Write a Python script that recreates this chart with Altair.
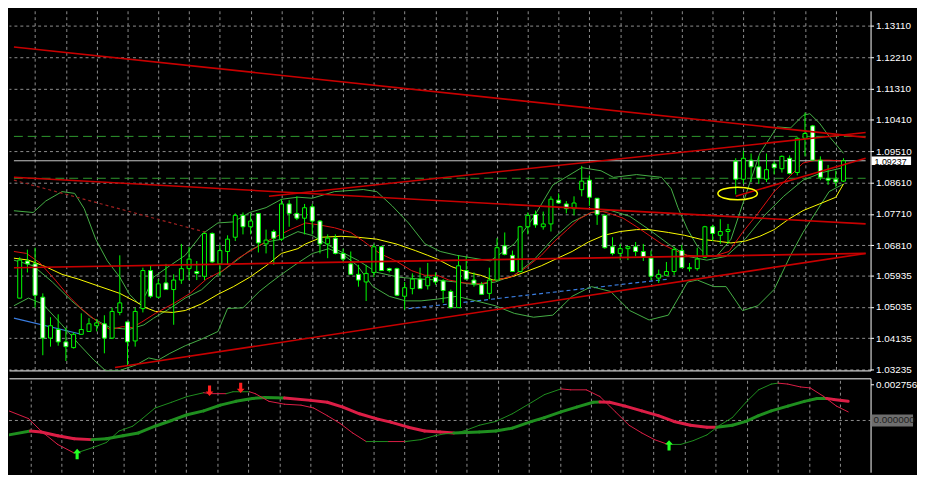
import altair as alt
import pandas as pd

# ---------------- data ----------------
opens = [1.05288, 1.06355, 1.06273, 1.05316, 1.04140, 1.04386, 1.04030, 1.03866, 1.04249, 1.04331,
         1.04495, 1.04550, 1.04140, 1.04878, 1.04605, 1.04058, 1.04987, 1.06081, 1.05316, 1.05726,
         1.05535, 1.05808, 1.06136, 1.06054, 1.05917, 1.07148, 1.06273, 1.06629, 1.07039, 1.07668,
         1.07340, 1.07723, 1.06847, 1.07203, 1.06984, 1.07996, 1.07723, 1.07586, 1.07914, 1.07504,
         1.06847, 1.07012, 1.06574, 1.06273, 1.05972, 1.05753, 1.06027, 1.06765, 1.06136, 1.06136,
         1.05343, 1.05562, 1.05836, 1.05644, 1.05890, 1.05781, 1.05480, 1.05015, 1.06081, 1.05808,
         1.05671, 1.05425, 1.05808, 1.06793, 1.06519, 1.06054, 1.07340, 1.07695, 1.07340, 1.07422,
         1.08105, 1.07996, 1.07859, 1.08406, 1.08680, 1.08160, 1.07668, 1.06765, 1.06574, 1.06711,
         1.06765, 1.06629, 1.06437, 1.05863, 1.05945, 1.06054, 1.06656, 1.06136, 1.06136, 1.06464,
         1.07340, 1.07094, 1.07203, 1.09227, 1.08707, 1.09254, 1.09063, 1.08707, 1.09145, 1.09008,
         1.09309, 1.08899, 1.09884, 1.10239, 1.09254, 1.08735, 1.08707, 1.08652]
highs = [1.06464, 1.06683, 1.06738, 1.05425, 1.04741, 1.04823, 1.04441, 1.04304, 1.04851, 1.04714,
         1.04687, 1.04796, 1.05015, 1.06519, 1.04605, 1.05015, 1.06164, 1.06218, 1.05836, 1.06273,
         1.05973, 1.06847, 1.06765, 1.06355, 1.07203, 1.07176, 1.06820, 1.07094, 1.07723, 1.07750,
         1.07723, 1.07723, 1.07258, 1.07258, 1.08133, 1.08105, 1.08215, 1.07996, 1.07996, 1.07531,
         1.07121, 1.07121, 1.06711, 1.06629, 1.06245, 1.06245, 1.06847, 1.06793, 1.06164, 1.06164,
         1.05753, 1.06000, 1.06164, 1.06300, 1.06027, 1.05836, 1.05535, 1.06519, 1.06492, 1.06027,
         1.05753, 1.06164, 1.07012, 1.07176, 1.06656, 1.07367, 1.07750, 1.07805, 1.07777, 1.08215,
         1.08297, 1.08078, 1.08215, 1.09090, 1.08817, 1.08160, 1.07695, 1.07039, 1.06847, 1.06793,
         1.06902, 1.06847, 1.06656, 1.06109, 1.06328, 1.06765, 1.06820, 1.06300, 1.06738, 1.07367,
         1.07394, 1.07559, 1.07422, 1.09309, 1.09528, 1.09446, 1.09364, 1.09446, 1.09227, 1.09391,
         1.09391, 1.09911, 1.10622, 1.10266, 1.09364, 1.09117, 1.08953, 1.09309]
lows = [1.05288, 1.06027, 1.05015, 1.03647, 1.03894, 1.03921, 1.03483, 1.03839, 1.04249, 1.04331,
        1.04331, 1.03702, 1.04112, 1.04796, 1.03347, 1.03894, 1.04878, 1.05288, 1.05288, 1.05535,
        1.04523, 1.05699, 1.05808, 1.05808, 1.05808, 1.06300, 1.05917, 1.06245, 1.06929, 1.07121,
        1.07121, 1.06601, 1.06574, 1.06245, 1.06929, 1.07340, 1.07531, 1.07121, 1.07121, 1.06574,
        1.06437, 1.06546, 1.06300, 1.05972, 1.05617, 1.05206, 1.05890, 1.06081, 1.06027, 1.05343,
        1.04960, 1.05398, 1.05562, 1.05535, 1.05671, 1.05152, 1.04987, 1.05015, 1.05808, 1.05617,
        1.05398, 1.05261, 1.05808, 1.06519, 1.06054, 1.06027, 1.07121, 1.07312, 1.07258, 1.07203,
        1.07996, 1.07723, 1.07668, 1.08215, 1.07941, 1.07394, 1.06711, 1.06519, 1.06382, 1.06382,
        1.06492, 1.06355, 1.05808, 1.05726, 1.05945, 1.05945, 1.06164, 1.06054, 1.06081, 1.06437,
        1.06929, 1.06847, 1.06847, 1.08270, 1.08570, 1.08625, 1.08570, 1.08625, 1.08844, 1.08899,
        1.08844, 1.08817, 1.09364, 1.09254, 1.08680, 1.08543, 1.08488, 1.08625]
closes = [1.06382, 1.06273, 1.05370, 1.04140, 1.04495, 1.04030, 1.03894, 1.04249, 1.04386, 1.04550,
          1.04577, 1.04140, 1.04906, 1.05152, 1.04030, 1.04906, 1.06081, 1.05343, 1.05699, 1.05535,
          1.05808, 1.06136, 1.06410, 1.05999, 1.07148, 1.06328, 1.06656, 1.06984, 1.07668, 1.07340,
          1.07504, 1.06875, 1.06957, 1.07012, 1.07996, 1.07723, 1.07586, 1.07887, 1.07504, 1.06847,
          1.07012, 1.06574, 1.06410, 1.05972, 1.05808, 1.05999, 1.06765, 1.06081, 1.06081, 1.05370,
          1.05589, 1.05836, 1.05562, 1.05890, 1.05753, 1.05507, 1.05015, 1.06218, 1.05836, 1.05699,
          1.05398, 1.05808, 1.06738, 1.06546, 1.06054, 1.07340, 1.07668, 1.07394, 1.07422, 1.08133,
          1.08023, 1.07859, 1.08023, 1.08652, 1.08188, 1.07695, 1.06738, 1.06574, 1.06711, 1.06765,
          1.06629, 1.06464, 1.05917, 1.05972, 1.06054, 1.06683, 1.06164, 1.06164, 1.06410, 1.07340,
          1.07148, 1.07203, 1.07258, 1.08707, 1.09309, 1.09063, 1.08734, 1.08981, 1.09035, 1.09364,
          1.08871, 1.09884, 1.10020, 1.09254, 1.08762, 1.08680, 1.08625, 1.09237]

price_ticks = [1.13110, 1.12210, 1.11310, 1.10410, 1.09510, 1.08610, 1.07710, 1.06810,
               1.05935, 1.05035, 1.04135, 1.03235]
grid_bars = [2, 6, 10, 14, 18, 22, 26, 30, 34, 38, 42, 46, 50, 54, 58, 62, 66, 70, 74, 78,
             82, 86, 90, 94, 98, 102, 106]
last_price = 1.09237

# slow moving average (yellow)
yel_i = [-0.75, 1.13, 3.38, 5.5, 7.63, 10.13, 13.0, 15.13, 16.38, 17.63, 19.88, 21.5, 23.63, 25.75,
         27.75, 29.88, 32.0, 34.0, 36.13, 37.13, 39.25, 41.75, 43.88, 46.38, 48.88, 51.38, 53.0,
         54.25, 56.13, 58.25, 59.88, 61.5, 63.25, 64.5, 66.13, 67.75, 69.88, 71.75, 73.88, 75.88,
         78.0, 80.13, 81.75, 84.25, 86.38, 88.38, 90.5, 92.38, 94.25, 96.13, 98.0, 99.88, 101.75,
         103.88, 106.0, 107.0]
yel_p = [1.06437, 1.06382, 1.06191, 1.05972, 1.05835, 1.05644, 1.05425, 1.05179, 1.05015, 1.04906,
         1.04878, 1.04933, 1.05124, 1.05398, 1.05617, 1.05890, 1.06218, 1.06574, 1.06711, 1.06847,
         1.07039, 1.07066, 1.07039, 1.06984, 1.06847, 1.06656, 1.06519, 1.06410, 1.06191, 1.06027,
         1.05945, 1.05808, 1.05863, 1.05945, 1.06081, 1.06218, 1.06437, 1.06629, 1.06902, 1.07094,
         1.07203, 1.07258, 1.07258, 1.07176, 1.07094, 1.06984, 1.06929, 1.06875, 1.06929, 1.07066,
         1.07258, 1.07559, 1.07805, 1.07996, 1.08188, 1.08570]

# fast moving average (red)
red_i = [-0.75, 0.88, 2.63, 4.63, 6.38, 8.0, 10.13, 11.75, 13.38, 14.63, 15.88, 17.63, 20.13, 22.13,
         24.25, 26.38, 28.38, 30.88, 32.63, 35.13, 37.13, 38.88, 40.88, 43.0, 44.63, 46.75, 48.88,
         50.88, 52.63, 54.25, 55.75, 57.75, 59.88, 62.0, 64.0, 65.75, 67.75, 69.5, 71.13, 72.63,
         74.25, 75.75, 77.0, 78.38, 80.13, 81.75, 83.38, 85.13, 86.75, 88.38, 90.13, 92.13, 93.88,
         95.88, 98.0, 100.13, 101.75, 103.38, 105.13, 107.0]
red_p = [1.06629, 1.06574, 1.06300, 1.05808, 1.05343, 1.04987, 1.04605, 1.04386, 1.04468, 1.04441,
         1.04605, 1.04851, 1.05152, 1.05425, 1.05835, 1.06081, 1.06437, 1.06765, 1.06984, 1.07258,
         1.07449, 1.07394, 1.07312, 1.07176, 1.06929, 1.06574, 1.06355, 1.06081, 1.05945, 1.05945,
         1.05808, 1.05726, 1.05699, 1.05808, 1.05917, 1.06164, 1.06519, 1.06929, 1.07258, 1.07559,
         1.07750, 1.07777, 1.07695, 1.07586, 1.07340, 1.07094, 1.06847, 1.06656, 1.06519, 1.06492,
         1.06492, 1.06629, 1.07176, 1.07723, 1.08352, 1.08817, 1.09172, 1.09254, 1.09254, 1.09227]

# band lines (green)
up_i = [-0.75, 1.75, 3.38, 5.5, 7.13, 8.38, 9.88, 11.38, 13.0, 14.25, 15.5, 16.38, 17.38, 19.5, 21.5,
        23.63, 25.75, 27.75, 29.88, 32.0, 34.0, 36.13, 38.0, 40.88, 44.63, 46.38, 48.38, 50.5,
        52.63, 54.63, 56.75, 58.88, 61.13, 64.25, 66.75, 69.25, 73.0, 75.5, 77.13, 80.13, 83.38,
        84.63, 85.5, 86.75, 88.0, 89.25, 90.5, 92.38, 94.25, 96.13, 98.38, 100.13, 101.75, 102.63,
        103.88, 105.13, 107.0]
up_p = [1.0780, 1.0775, 1.0808, 1.0835, 1.0830, 1.0786, 1.0698, 1.0636, 1.0589, 1.0540, 1.0512,
        1.0540, 1.0589, 1.0622, 1.0652, 1.0712, 1.0745, 1.0748, 1.0775, 1.0789, 1.0813, 1.0819,
        1.0816, 1.0835, 1.0841, 1.0835, 1.0794, 1.0745, 1.0685, 1.0663, 1.0652, 1.0644, 1.0636,
        1.0685, 1.0761, 1.0854, 1.0904, 1.0895, 1.0876, 1.0884, 1.0876, 1.0843, 1.0789, 1.0726,
        1.0679, 1.0652, 1.0649, 1.0698, 1.0822, 1.0945, 1.1021, 1.1018, 1.1054, 1.1059, 1.1032,
        1.0994, 1.0945]
mid_i = [-0.75, 1.75, 4.25, 6.75, 9.25, 11.75, 14.25, 16.13, 17.38, 19.5, 21.5, 23.63, 25.75, 27.75,
         29.88, 32.0, 34.0, 36.13, 38.0, 40.5, 43.88, 46.38, 49.25, 51.75, 54.25, 56.75, 59.25,
         61.75, 64.25, 66.75, 69.25, 71.75, 74.25, 76.75, 79.25, 81.75, 84.25, 86.75, 89.25, 91.75,
         94.25, 96.75, 99.25, 101.75, 104.25, 107.0]
mid_p = [1.0638, 1.0622, 1.0575, 1.0521, 1.0474, 1.0444, 1.0439, 1.0452, 1.0471, 1.0499, 1.0529,
         1.0553, 1.0597, 1.0630, 1.0666, 1.0690, 1.0698, 1.0720, 1.0709, 1.0676, 1.0638, 1.0603,
         1.0589, 1.0584, 1.0581, 1.0575, 1.0567, 1.0575, 1.0595, 1.0638, 1.0699, 1.0748, 1.0775,
         1.0781, 1.0764, 1.0726, 1.0685, 1.0649, 1.0638, 1.0649, 1.0699, 1.0767, 1.0822, 1.0868,
         1.0890, 1.0904]
low_i = [-0.75, 1.13, 3.0, 5.5, 7.63, 9.63, 11.13, 13.0, 15.13, 16.75, 18.0, 19.5, 21.5, 23.63,
         25.75, 27.0, 29.0, 31.13, 32.38, 34.0, 36.13, 38.0, 40.13, 42.13, 43.88, 45.88, 48.0,
         50.13, 52.13, 54.25, 56.75, 59.25, 61.75, 64.25, 66.75, 69.25, 71.75, 74.25, 76.75, 79.25,
         81.75, 84.25, 86.75, 88.0, 90.13, 91.75, 93.88, 95.88, 98.0, 100.13, 101.75, 105.13, 107.0]
low_p = [1.0507, 1.0529, 1.0512, 1.0452, 1.0398, 1.0351, 1.0321, 1.0321, 1.0337, 1.0357, 1.0351,
         1.0370, 1.0392, 1.0411, 1.0433, 1.0499, 1.0501, 1.0548, 1.0570, 1.0597, 1.0630, 1.0657,
         1.0671, 1.0652, 1.0622, 1.0562, 1.0534, 1.0521, 1.0521, 1.0526, 1.0534, 1.0521, 1.0507,
         1.0485, 1.0474, 1.0480, 1.0534, 1.0562, 1.0548, 1.0493, 1.0466, 1.0480, 1.0575, 1.0581,
         1.0562, 1.0562, 1.0493, 1.0507, 1.0554, 1.0652, 1.0718, 1.0835, 1.0857]

# drawn objects: straight trend lines (bar index, price) -> (bar index, price)
trend_i1 = [-0.75, -0.75, 32.375, -0.75, 12.375, 93.0]
trend_p1 = [1.12509, 1.08762, 1.08215, 1.06164, 1.03292, 1.08215]
trend_i2 = [109.875, 109.875, 109.875, 109.875, 109.875, 109.875]
trend_p2 = [1.09910, 1.07422, 1.10047, 1.06574, 1.06574, 1.09309]
dash_red = [(-0.75, 1.08680, 24.25, 1.07176)]
blue_solid = [(-0.75, 1.04714, 8.0, 1.04249)]
blue_dash = [(50.5, 1.04987, 84.25, 1.05835)]
green_levels = [1.09938, 1.08734]
ellipse_at = [(93.25, 1.08297)]

# lower window: oscillator (thin line and thick line, with segment direction u/d)
thin_i = [-0.75, 1.75, 3.375, 5.5, 7.625, 8.25, 10.125, 11.75, 13.375, 15.125, 16.375, 18.0, 20.125,
          22.125, 24.25, 25.125, 27.125, 28.0, 30.125, 30.875, 32.625, 34.625, 36.75, 38.375,
          40.125, 41.75, 43.375, 45.125, 48.0, 50.125, 52.125, 53.875, 55.125, 56.75, 58.0, 59.625,
          61.75, 63.875, 66.375, 68.0, 70.125, 71.375, 73.375, 75.125, 77.125, 78.875, 80.5,
          82.125, 83.875, 85.5, 87.125, 88.875, 90.5, 92.125, 93.875, 95.5, 97.125, 98.0, 99.25,
          100.875, 102.125, 103.875, 105.5, 107.0]
thin_v = [0.000725, 0.000145, -0.000798, -0.001813, -0.002466, -0.002393, -0.002031, -0.001668,
          -0.000798, -0.000435, 0.000145, 0.000943, 0.001378, 0.001813, 0.002103, 0.002031,
          0.002031, 0.002176, 0.002176, 0.002031, 0.001451, 0.001233, 0.001160, 0.000943, 0.000363,
          -0.000218, -0.000943, -0.001596, -0.001596, -0.001596, -0.001451, -0.001160, -0.001015,
          -0.000943, -0.000725, -0.000363, -0.000073, 0.000508, 0.001378, 0.001958, 0.002393,
          0.002321, 0.002321, 0.001813, 0.000653, -0.000363, -0.000943, -0.001451, -0.001813,
          -0.001813, -0.001523, -0.001088, -0.000363, 0.000218, 0.001378, 0.002321, 0.002756,
          0.002829, 0.002756, 0.002539, 0.002466, 0.001813, 0.001088, 0.000653]
thin_dir = ("ddddu" "uuuuuuuuu" "dd" "uu" "ddddddddd" "u" "d" "uuuuuuuuuuu" "dddddddd"
            "uuuuuuuuu" "dddddd")
thick_i = [-0.75, 2.0, 3.375, 5.5, 7.625, 9.875, 11.75, 13.875, 15.875, 18.0, 20.125, 22.125, 24.25,
           26.375, 28.375, 30.5, 32.125, 34.625, 38.0, 40.125, 42.125, 44.25, 46.375, 48.375, 50.5,
           52.625, 54.625, 56.375, 59.625, 61.75, 63.875, 66.375, 68.0, 70.125, 72.125, 74.25,
           75.125, 76.375, 78.375, 80.5, 82.625, 84.625, 86.75, 88.875, 90.125, 92.125, 93.875,
           95.5, 97.125, 99.25, 101.375, 103.0, 104.25, 105.125, 107.0]
thick_v = [-0.001088, -0.000798, -0.000870, -0.001160, -0.001378, -0.001451, -0.001378, -0.001160,
           -0.000943, -0.000435, 0.0, 0.000435, 0.000725, 0.001160, 0.001451, 0.001668, 0.001741,
           0.001705, 0.001523, 0.001378, 0.001015, 0.000508, 0.000145, -0.000145, -0.000508,
           -0.000798, -0.000870, -0.000943, -0.000870, -0.000798, -0.000580, -0.000073, 0.000218,
           0.000653, 0.001015, 0.001378, 0.001405, 0.001378, 0.001088, 0.000725, 0.000363,
           -0.000073, -0.000363, -0.000508, -0.000508, -0.000363, -0.000073, 0.000363, 0.000725,
           0.001088, 0.001451, 0.001668, 0.001668, 0.001596, 0.001451]
thick_dir = ("u" "dddd" "uuuuuuuuuuuu" "dddddddddd" "uuuuuuuuu" "dddddddd" "uuuuuuuu" "dd")
arrow_up = [(8.0, -0.002539), (84.0, -0.001886)]
arrow_down = [(25.0, 0.002248), (29.0, 0.002466)]
osc_ticks = [0.002756]

# ---------------- layout / style ----------------
W, H1, H2 = 872, 364, 95
FONT = "Liberation Sans"
LIME = "#00ff00"
GRID = "#8f8f8f"
xs = alt.Scale(domain=[-0.75, 109.875], nice=False, zero=False)
ys = alt.Scale(domain=[1.03210, 1.13548], nice=False, zero=False)
os_ = alt.Scale(domain=[-0.003917, 0.003191], nice=False, zero=False)

ax_x_main = alt.Axis(values=grid_bars, labels=False, ticks=False, domain=True, domainColor="#ffffff",
                     domainWidth=1, grid=True, gridColor=GRID, gridDash=[3, 3], gridWidth=1,
                     title=None, orient="bottom")
ax_y_main = alt.Axis(values=price_ticks, format=".5f", orient="right", grid=True, gridColor=GRID,
                     gridDash=[3, 3], domainColor="#ffffff", tickColor="#ffffff", tickSize=3,
                     labelColor="#ffffff", labelFont=FONT, labelFontSize=10, labelPadding=2,
                     title=None, labelOverlap=False, labelFlush=False)
ax_x_low = alt.Axis(values=grid_bars, labels=False, ticks=False, domain=True, domainColor="#ffffff",
                    grid=True, gridColor=GRID, gridDash=[3, 3], title=None, orient="top")
ax_y_low = alt.Axis(values=osc_ticks, format=".6f", orient="right", grid=False,
                    domainColor="#ffffff", tickColor="#ffffff", tickSize=3, labelColor="#ffffff",
                    labelFont=FONT, labelFontSize=10, labelPadding=2, title=None,
                    labelOverlap=False, labelFlush=False)


def X(f):
    return alt.X(f, type="quantitative", scale=xs, axis=ax_x_main)


def Y(f):
    return alt.Y(f, type="quantitative", scale=ys, axis=ax_y_main)


def XL(f):
    return alt.X(f, type="quantitative", scale=xs, axis=ax_x_low)


def YL(f):
    return alt.Y(f, type="quantitative", scale=os_, axis=ax_y_low)


bars = pd.DataFrame({"i": list(range(len(opens))), "o": opens, "h": highs, "l": lows, "c": closes})
bars["top"] = bars[["o", "c"]].max(axis=1)
bars["bot"] = bars[["o", "c"]].min(axis=1)
bars["dir"] = ["bull" if c >= o else "bear" for o, c in zip(opens, closes)]


def seg_df(rows):
    return pd.DataFrame(rows, columns=["i", "p", "i2", "p2"])


def line_df(ii, pp):
    return pd.DataFrame({"i": ii, "p": pp})


def line(ii, pp, color, width=1.0):
    return alt.Chart(line_df(ii, pp)).mark_line(color=color, strokeWidth=width, clip=True).encode(
        x=X("i"), y=Y("p"), order="i:Q")


def segs(rows, color, width=1.5, dash=None):
    kw = dict(color=color, strokeWidth=width, clip=True)
    if dash:
        kw["strokeDash"] = dash
    return alt.Chart(seg_df(rows)).mark_rule(**kw).encode(x=X("i"), y=Y("p"), x2="i2", y2="p2")


trend_rows = list(zip(trend_i1, trend_p1, trend_i2, trend_p2))
level_rows = [(-0.75, v, 109.875, v) for v in green_levels]
price_row = [(-0.75, last_price, 109.875, last_price)]

layers = [
    segs(price_row, "#c8c8c8", 1),
    segs(level_rows, "#2f9a2f", 1, [9, 5]),
    segs(blue_solid, "#3a7de0", 1.2),
    segs(blue_dash, "#3a7de0", 1.2, [4, 3]),
    line(up_i, up_p, "#46b046"),
    line(mid_i, mid_p, "#46b046"),
    line(low_i, low_p, "#46b046"),
    line(yel_i, yel_p, "#ffff00"),
    line(red_i, red_p, "#e01010"),
    alt.Chart(bars).mark_rule(color=LIME, strokeWidth=1).encode(x=X("i"), y=Y("l"), y2="h"),
    alt.Chart(bars).mark_bar(width=4, stroke=LIME, strokeWidth=1).encode(
        x=X("i"), y=Y("bot"), y2="top",
        fill=alt.Fill("dir:N", scale=alt.Scale(domain=["bull", "bear"], range=["#000000", "#ffffff"]),
                      legend=None)),
    segs(dash_red, "#a02020", 1.2, [3, 3]),
    segs(trend_rows, "#c80000", 1.6),
    alt.Chart(pd.DataFrame(ellipse_at, columns=["i", "p"])).mark_point(
        shape="M-1,0A1,0.32,0,1,1,1,0A1,0.32,0,1,1,-1,0Z", size=1600, filled=False,
        color="#ffff00", strokeWidth=1.5, opacity=1).encode(x=X("i"), y=Y("p")),
    alt.Chart(pd.DataFrame({"p": [last_price - 0.00125], "p2": [last_price + 0.00125]})).mark_rect(
        color="#ffffff").encode(x=alt.value(W + 1), x2=alt.value(W + 41), y=Y("p"), y2="p2"),
    alt.Chart(pd.DataFrame({"p": [last_price], "t": [f"{last_price:.5f}"]})).mark_text(
        align="left", baseline="middle", font=FONT, fontSize=9, color="#000000", dy=1).encode(
        x=alt.value(W + 4), y=Y("p"), text="t:N"),
]
main = alt.layer(*layers).properties(width=W, height=H1)


# lower window
def osc_segs(ii, vv, dirs, width, colors):
    rows = [(ii[k], vv[k], ii[k + 1], vv[k + 1], dirs[k]) for k in range(len(ii) - 1)]
    df = pd.DataFrame(rows, columns=["i", "v", "i2", "v2", "d"])
    return alt.Chart(df).mark_rule(strokeWidth=width, strokeCap="round", clip=True).encode(
        x=XL("i"), y=YL("v"), x2="i2", y2="v2",
        color=alt.Color("d:N", scale=alt.Scale(domain=["u", "d"], range=colors), legend=None))


zero_df = pd.DataFrame({"i": [-0.75], "v": [0.0], "i2": [109.875], "v2": [0.0]})
low_layers = [
    alt.Chart(zero_df).mark_rule(color=GRID, strokeDash=[3, 3], strokeWidth=1).encode(
        x=XL("i"), y=YL("v"), x2="i2", y2="v2"),
    osc_segs(thick_i, thick_v, thick_dir, 3, ["#1f8f1f", "#dc1e46"]),
    osc_segs(thin_i, thin_v, thin_dir, 1, ["#66ee44", "#e01a1a"]),
    alt.Chart(pd.DataFrame(arrow_up, columns=["i", "v"])).mark_point(
        shape="M0,-1L0.75,-0.15L0.3,-0.15L0.3,1L-0.3,1L-0.3,-0.15L-0.75,-0.15Z", size=110,
        filled=True, color="#22ff22", opacity=1).encode(x=XL("i"), y=YL("v")),
    alt.Chart(pd.DataFrame(arrow_down, columns=["i", "v"])).mark_point(
        shape="M0,1L0.75,0.15L0.3,0.15L0.3,-1L-0.3,-1L-0.3,0.15L-0.75,0.15Z", size=110,
        filled=True, color="#ff2020", opacity=1).encode(x=XL("i"), y=YL("v")),
    alt.Chart(pd.DataFrame({"v": [-0.00045], "v2": [0.00045]})).mark_rect(color="#6e6e6e").encode(
        x=alt.value(W + 1), x2=alt.value(W + 43), y=YL("v"), y2="v2"),
    alt.Chart(pd.DataFrame({"v": [0.0], "t": ["0.000000"]})).mark_text(
        align="left", baseline="middle", font=FONT, fontSize=10, color="#1e1e1e").encode(
        x=alt.value(W + 3), y=YL("v"), text="t:N"),
]
lower = alt.layer(*low_layers).properties(width=W, height=H2)

chart = alt.vconcat(main, lower, spacing=3).properties(
    background="#000000", padding=0
).configure_view(stroke=None)

chart.save("out.html", embed_options={"renderer": "svg", "actions": False})
